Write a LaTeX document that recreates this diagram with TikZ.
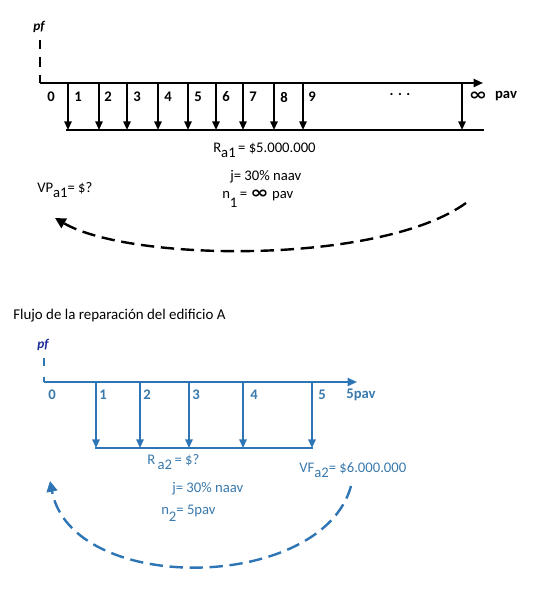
\documentclass[tikz,border=0pt]{standalone}
\usepackage{fontspec}
\setmainfont{Carlito}
\newfontfamily\symfont{DejaVu Sans}
\usetikzlibrary{arrows.meta}
\definecolor{bline}{HTML}{2E75B6}
\definecolor{btext}{HTML}{3A7AAE}
\definecolor{navy}{HTML}{1F2F9A}
\newcommand{\infsym}{{\symfont\bfseries\scalebox{1.5}[1.15]{∞}}}
\begin{document}
\begin{tikzpicture}[x=0.75pt,y=-0.75pt,
  axisline/.style={line width=1.4pt,-{Triangle[length=7pt,width=6pt]}},
  flow/.style={line width=1.3pt,-{Triangle[length=6.5pt,width=5.5pt]}},
  baseline/.style={line width=1.4pt},
  pfdash/.style={line width=1.5pt,dash pattern=on 7pt off 6pt},
  lbl/.style={font=\bfseries\fontsize{11}{13}\selectfont,inner sep=0pt},
  formula/.style={font=\fontsize{11}{13}\selectfont,inner sep=0pt},
  pflbl/.style={font=\bfseries\itshape\fontsize{10}{12}\selectfont,inner sep=0pt},
  arcline/.style={line width=1.8pt,dash pattern=on 10pt off 5pt,-{Triangle[length=8pt,width=8pt]}}
]
\useasboundingbox (0,0) rectangle (539,605);
\fill[white] (0,0) rectangle (539,605);

% ---------------- top diagram ----------------
\node[pflbl] (pf1) at (39,27) {pf};
\coordinate (pft1) at (40,40);
\coordinate (o1) at (40,83);
\draw[pfdash] (pft1) -- (o1);
\coordinate (e1) at (483,83);
\draw[axisline] (o1) -- (e1);
\coordinate (bl1) at (66,130);
\coordinate (br1) at (484,130);
\draw[baseline] (bl1) -- (br1);
\foreach \i/\x in {1/68,2/99,3/127,4/158,5/188,6/216,7/243,8/274,9/303,10/462}{
  \coordinate (ta\i) at (\x,83);
  \coordinate (ba\i) at (\x,130);
  \draw[flow] (ta\i) -- (ba\i);
}
\node[lbl] (n0) at (51,97) {0};
\foreach \i/\x in {1/78,2/108,3/137,4/168,5/198,6/226,7/253,8/284,9/312}{
  \node[lbl] (na\i) at (\x,97) {\i};
}
\node[lbl] (dots) at (400,95) {. . .};
\node[lbl] (inf1) at (478,96) {\infsym};
\node[lbl] (pav1) at (506,96) {pav};

\node[formula,anchor=west] (Ra1) at (213,150) {R\raisebox{-0.7ex}{a1}\,= \$5.000.000};
\node[formula,anchor=west] (j1) at (230,177) {j= 30\% naav};
\node[formula,anchor=west] (n1) at (222,199) {n\raisebox{-1.3ex}{1}\,= \infsym{} pav};
\node[formula,anchor=west] (VP1) at (37,190) {VP\raisebox{-0.6ex}{a1}= \$?};
\coordinate (as1) at (466,203);
\coordinate (ae1) at (55,218);
\draw[arcline] (as1) .. controls (380,265) and (130,262) .. (ae1);

% ---------------- caption ----------------
\node[font=\fontsize{11.2}{13}\selectfont,inner sep=0pt,anchor=west] (cap) at (13,316) {Flujo de la reparación del edificio A};

% ---------------- bottom diagram ----------------
\begin{scope}[bline]
\node[pflbl,text=navy] (pf2) at (43,345) {pf};
\coordinate (pft2) at (44,358);
\coordinate (o2) at (44,382);
\draw[pfdash,line width=1.5pt,dash pattern=on 6pt off 8pt] (pft2) -- (o2);
\coordinate (e2) at (357,382);
\draw[axisline] (o2) -- (e2);
\coordinate (bl2) at (95,448);
\coordinate (br2) at (313,448);
\draw[baseline] (bl2) -- (br2);
\foreach \i/\x in {1/96,2/140,3/189,4/243,5/312}{
  \coordinate (tb\i) at (\x,382);
  \coordinate (bb\i) at (\x,448);
  \draw[flow] (tb\i) -- (bb\i);
}
\end{scope}
\begin{scope}[text=btext]
\node[lbl] (m0) at (52,395) {0};
\foreach \i/\x in {1/103,2/147,3/196,4/254,5/322}{
  \node[lbl] (nb\i) at (\x,395) {\i};
}
\node[lbl] (pav2) at (361,395) {5pav};
\node[formula,anchor=west] (Ra2) at (147,462) {R\,\raisebox{-0.8ex}{a2}\,= \$?};
\node[formula,anchor=west] (VF2) at (299,470) {VF\raisebox{-0.8ex}{a2}= \$6.000.000};
\node[formula,anchor=west] (j2) at (172,489) {j= 30\% naav};
\node[formula,anchor=west] (n2) at (161,513) {n\raisebox{-1.0ex}{2}= 5pav};
\end{scope}
\coordinate (as2) at (351,486);
\coordinate (ae2) at (50,481);
\draw[arcline,bline] (as2) .. controls (322,592) and (72,596) .. (ae2);
\end{tikzpicture}
\end{document}
